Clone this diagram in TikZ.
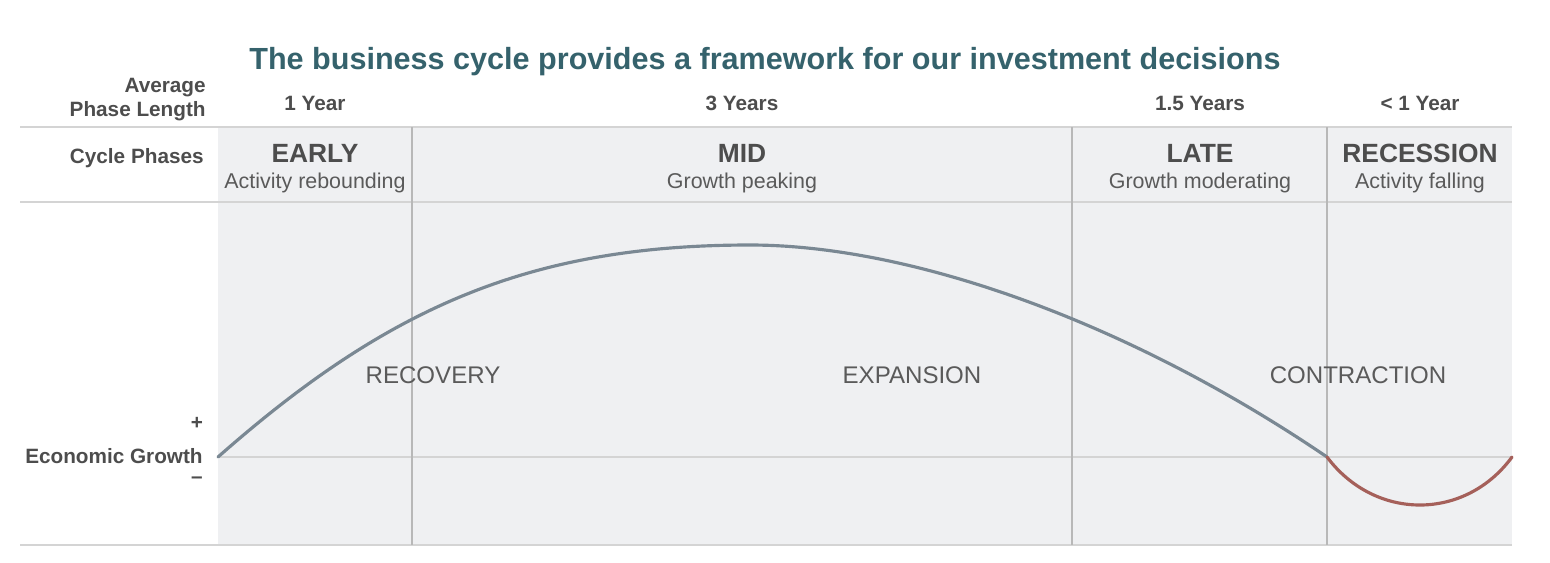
\documentclass[tikz,border=0pt]{standalone}
\usepackage{fontspec}
\setmainfont{Liberation Sans}
\usepackage{xcolor}
\usetikzlibrary{math}
\usetikzlibrary{calc}

\definecolor{panelgray}{HTML}{EFF0F2}
\definecolor{rulegray}{HTML}{D4D4D4}
\definecolor{dividergray}{HTML}{B8B8B8}
\definecolor{labelgray}{HTML}{4D4D4D}
\definecolor{textgray}{HTML}{5A5A5A}
\definecolor{titleteal}{HTML}{35626C}
\definecolor{growthblue}{HTML}{7A8893}
\definecolor{recessred}{HTML}{A5605A}

\tikzset{
  heading/.style={anchor=base, inner sep=0pt, text=titleteal,
    font=\bfseries\fontsize{17.4}{20}\selectfont},
  rowlabel/.style={anchor=base east, inner sep=0pt, text=labelgray,
    font=\bfseries\fontsize{11.8}{14}\selectfont},
  lengthtext/.style={anchor=base, inner sep=0pt, text=labelgray,
    font=\bfseries\fontsize{11.8}{14}\selectfont},
  phasetext/.style={anchor=base, inner sep=0pt, text=labelgray,
    font=\bfseries\fontsize{15}{18}\selectfont},
  notetext/.style={anchor=base, inner sep=0pt, text=textgray,
    font=\fontsize{12.2}{14}\selectfont},
  stagetext/.style={anchor=base, inner sep=0pt, text=textgray,
    font=\fontsize{13.7}{16}\selectfont},
  rule/.style={draw=rulegray, line width=1.6pt},
  divider/.style={draw=dividergray, line width=1.1pt},
  growth/.style={draw=growthblue, line width=1.8pt, line cap=round},
  recess/.style={draw=recessred, line width=1.8pt, line cap=round}
}

\begin{document}
\begin{tikzpicture}[x=0.02cm,y=-0.02cm]

  \tikzmath{
    \xlabel = 20;   % left end of the rules
    \xstart = 218;  % left edge of the shaded panel
    \xearly = 412;  % end of early phase
    \xmid   = 1072; % end of mid phase
    \xlate  = 1327; % end of late phase
    \xend   = 1512; % right edge of the panel
    \ytop   = 127;  % top rule
    \yhead  = 202;  % rule under the phase names
    \yaxis  = 457;  % zero growth
    \ybot   = 545;  % bottom rule
  }

  \useasboundingbox (0,0) rectangle (1550,562);

  % Shaded panel behind the phases
  \fill[panelgray] (\xstart,\ytop) rectangle (\xend,\ybot);

  % Rules across the table
  \draw[rule] (\xlabel,\ytop) -- (\xend,\ytop);
  \draw[rule] (\xlabel,\yhead) -- (\xend,\yhead);
  \draw[rule] (\xlabel,\ybot) -- (\xend,\ybot);
  \draw[rule] (\xstart,\yaxis) -- (\xend,\yaxis);

  % Phase boundaries
  \foreach \x in {\xearly,\xmid,\xlate}
    \draw[divider] (\x,\ytop) -- (\x,\ybot);

  % Points where the growth curve meets the axis, and its peak
  \coordinate (S) at (\xstart,\yaxis);
  \coordinate (P) at (750,245);
  \coordinate (T) at (\xlate,\yaxis);
  \coordinate (E) at (\xend,\yaxis);

  % Growth above zero
  \draw[growth] (S) .. controls (388,307) and (530,245) .. (P)
                    .. controls (910,245) and (1127,321) .. (T);

  % Recession below zero
  \draw[recess] (T) .. controls (1375,521) and (1465,521) .. (E);

  % Title
  \node[heading] (title) at (765,69)
    {The business cycle provides a framework for our investment decisions};

  % Row labels
  \node[rowlabel] (average) at (206,92) {Average};
  \node[rowlabel] (phaselength) at (206,116) {Phase Length};
  \node[rowlabel] (cyclephases) at (204,163) {Cycle Phases};
  \node[rowlabel] (econgrowth) at (203,463) {Economic Growth};
  \node[rowlabel, anchor=center] (plus) at (197,423) {+};
  \node[rowlabel, anchor=center] (minus) at (197,480) {–};

  % Phase columns
  \foreach \x/\len/\phase/\note/\id in {
      315/1 Year/EARLY/Activity rebounding/early,
      742/3 Years/MID/Growth peaking/mid,
      1200/1.5 Years/LATE/Growth moderating/late,
      1420/{< 1 Year}/RECESSION/Activity falling/recession}
  {
    \node[lengthtext] (len-\id) at (\x,110) {\len};
    \node[phasetext] (phase-\id) at (\x,162) {\phase};
    \node[notetext] (note-\id) at (\x,188) {\note};
  }

  % Stages along the curve
  \node[stagetext] (recovery) at (433,383) {RECOVERY};
  \node[stagetext] (expansion) at (912,383) {EXPANSION};
  \node[stagetext] (contraction) at (1358,383) {CONTRACTION};

\end{tikzpicture}
\end{document}
